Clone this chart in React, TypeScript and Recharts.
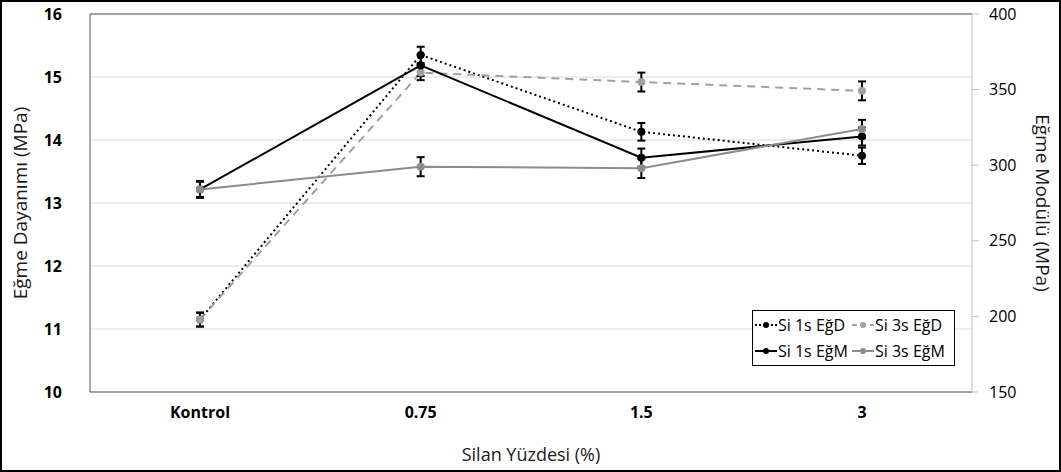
import { LineChart, Line, XAxis, YAxis, CartesianGrid, Legend, ErrorBar, ReferenceLine } from 'recharts';

// Silan yüzdesi kategorileri
const categories = ['Kontrol', '0.75', '1.5', '3'];

// Eğme dayanımı (MPa) - sol eksen
const si1sEgD = [11.15, 15.35, 14.13, 13.75];
const si3sEgD = [11.15, 15.07, 14.92, 14.78];
const si1sEgDErr = [0.11, 0.13, 0.14, 0.13];
const si3sEgDErr = [0.11, 0.12, 0.15, 0.15];

// Eğme modülü (MPa) - sağ eksen
const si1sEgM = [284, 366, 305, 319];
const si3sEgM = [284, 299, 298, 324];
const si1sEgMErr = [5.6, 7, 6, 6];
const si3sEgMErr = [5, 6.3, 6.5, 6];

const leftTicks = [10, 11, 12, 13, 14, 15, 16];
const rightTicks = [150, 200, 250, 300, 350, 400];

const data = categories.map((name, i) => ({
  name,
  d1: si1sEgD[i],
  d1e: si1sEgDErr[i],
  d3: si3sEgD[i],
  d3e: si3sEgDErr[i],
  m1: si1sEgM[i],
  m1e: si1sEgMErr[i],
  m3: si3sEgM[i],
  m3e: si3sEgMErr[i],
}));

const series = [
  { key: 'd1', err: 'd1e', name: 'Si 1s EğD', axis: 'left', color: '#000000', dash: '2 3', legendDash: '2 2' },
  { key: 'd3', err: 'd3e', name: 'Si 3s EğD', axis: 'left', color: '#a0a0a0', dash: '8 6', legendDash: '5 4' },
  { key: 'm1', err: 'm1e', name: 'Si 1s EğM', axis: 'right', color: '#000000', dash: undefined, legendDash: undefined },
  { key: 'm3', err: 'm3e', name: 'Si 3s EğM', axis: 'right', color: '#8c8c8c', dash: undefined, legendDash: undefined },
];

const FONT = '"Open Sans", sans-serif';

function renderLegend(props: any) {
  const names = (props.payload || []).map((p: any) => p.value);
  const items = series.filter((s) => names.includes(s.name));
  return (
    <div
      style={{
        border: '1px solid #000',
        background: '#fff',
        display: 'grid',
        gridTemplateColumns: '97px 100px',
        padding: '1px 2px',
        fontFamily: FONT,
        fontSize: 16,
        color: '#000',
      }}
    >
      {items.map((s) => (
        <div key={s.key} style={{ display: 'flex', alignItems: 'center', height: 26 }}>
          <svg width={22} height={10} style={{ marginRight: 1 }}>
            <line x1={0} y1={5} x2={22} y2={5} stroke={s.color} strokeWidth={2} strokeDasharray={s.legendDash} />
            <circle cx={11} cy={5} r={3} fill={s.color} />
          </svg>
          <span style={{ whiteSpace: 'nowrap' }}>{s.name}</span>
        </div>
      ))}
    </div>
  );
}

export default function App() {
  return (
    <div style={{ position: 'relative', width: 1061, height: 472, background: '#fff', fontFamily: FONT }}>
      <style>{`body{margin:0}`}</style>
      <LineChart width={1061} height={472} data={data} margin={{ top: 14, right: 0, bottom: 0, left: 0 }}>
        <CartesianGrid yAxisId="left" vertical={false} stroke="#d9d9d9" />
        <XAxis
          dataKey="name"
          height={80}
          padding={{ left: 110, right: 110 }}
          axisLine={{ stroke: '#595959' }}
          tickLine={false}
          tickSize={0}
          tickMargin={15}
          tick={{ fill: '#000', fontSize: 16, fontWeight: 700 }}
          label={{ value: 'Silan Yüzdesi (%)', position: 'insideBottom', offset: 11, fill: '#1a1a1a', fontSize: 18 }}
        />
        <YAxis
          yAxisId="left"
          width={90}
          domain={[10, 16]}
          ticks={leftTicks}
          axisLine={{ stroke: '#595959' }}
          tickLine={false}
          tickSize={0}
          tickMargin={28}
          tick={{ fill: '#000', fontSize: 16, fontWeight: 700 }}
          label={{
            value: 'Eğme Dayanımı (MPa)',
            angle: -90,
            position: 'insideLeft',
            offset: 20,
            fill: '#1a1a1a',
            fontSize: 19,
            style: { textAnchor: 'middle' },
          }}
        />
        <YAxis
          yAxisId="right"
          orientation="right"
          width={89}
          domain={[150, 400]}
          ticks={rightTicks}
          axisLine={{ stroke: '#bfbfbf' }}
          tickLine={{ stroke: '#bfbfbf' }}
          tickSize={7}
          tickMargin={10}
          tick={{ fill: '#000', fontSize: 16 }}
          label={{
            value: 'Eğme Modülü (MPa)',
            angle: 90,
            position: 'insideRight',
            offset: 18,
            fill: '#1a1a1a',
            fontSize: 19,
            style: { textAnchor: 'middle' },
          }}
        />
        <ReferenceLine yAxisId="left" y={16} stroke="#595959" />
        {series.map((s) => (
          <Line
            key={s.key}
            yAxisId={s.axis}
            dataKey={s.key}
            name={s.name}
            type="linear"
            stroke={s.color}
            strokeWidth={2}
            strokeDasharray={s.dash}
            dot={{ r: 4, fill: s.color, stroke: s.color, strokeWidth: 0 }}
            activeDot={false}
            isAnimationActive={false}
          >
            <ErrorBar dataKey={s.err} width={4} stroke="#000" strokeWidth={2} direction="y" />
          </Line>
        ))}
        <Legend
          layout="vertical"
          align="center"
          verticalAlign="middle"
          content={renderLegend}
          wrapperStyle={{ position: 'absolute', left: 752, top: 310, width: 'auto', height: 'auto' }}
        />
      </LineChart>
      <div
        style={{
          position: 'absolute',
          inset: 0,
          border: '2px solid #000',
          pointerEvents: 'none',
        }}
      />
    </div>
  );
}
